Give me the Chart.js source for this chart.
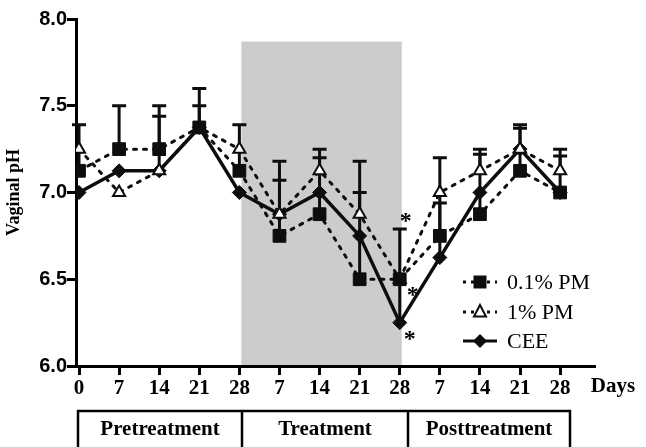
<!DOCTYPE html>
<html>
<head>
<meta charset="utf-8">
<script src="https://cdn.jsdelivr.net/npm/chart.js@4.4.1/dist/chart.umd.min.js"></script>
<style>
    html, body { margin: 0; padding: 0; background: #fff; }
</style>
</head>
<body>
<canvas id="chart1" width="646" height="447"></canvas>
<script>
// DATA
const dayLabels = ['0', '7', '14', '21', '28', '7', '14', '21', '28', '7', '14', '21', '28'];
const yTicks = [6.0, 6.5, 7.0, 7.5, 8.0];
const pm01 = [7.125, 7.25, 7.25, 7.375, 7.125, 6.75, 6.875, 6.5, 6.5, 6.75, 6.875, 7.125, 7.0];
const pm1 = [7.25, 7.0, 7.125, 7.375, 7.25, 6.875, 7.125, 6.875, 6.5, 7.0, 7.125, 7.25, 7.125];
const cee = [7.0, 7.125, 7.125, 7.375, 7.0, 6.875, 7.0, 6.75, 6.25, 6.625, 7.0, 7.25, 7.0];
// upper end of the error bars (null = not drawn)
const pm01Err = [7.39, 7.5, 7.5, 7.6, 7.39, 7.18, 7.2, 7.18, null, 6.94, 7.22, 7.37, 7.21];
const pm1Err = [null, null, null, 7.5, null, 7.07, 7.25, 7.0, null, null, 7.25, 7.39, 7.25];
const ceeErr = [null, null, 7.44, null, null, null, null, null, 6.79, 7.2, null, null, null];
const phases = ['Pretreatment', 'Treatment', 'Posttreatment'];
const treatmentBand = [4, 8, 7.87];   // from day index, to day index, top pH

const INK = '#0d0d0d';
const serif = 'Liberation Serif';
const DASH = [3, 7];

function drawMarker(ctx, style, x, y) {
    ctx.save();
    ctx.fillStyle = INK;
    ctx.strokeStyle = INK;
    ctx.beginPath();
    if (style === 'rect') {
        ctx.rect(x - 6.5, y - 6.5, 13, 13);
        ctx.fill();
    } else if (style === 'triangle') {
        ctx.moveTo(x, y - 7);
        ctx.lineTo(x + 6, y + 4.5);
        ctx.lineTo(x - 6, y + 4.5);
        ctx.closePath();
        ctx.fillStyle = '#fff';
        ctx.fill();
        ctx.lineWidth = 2;
        ctx.stroke();
    } else {
        ctx.moveTo(x, y - 7);
        ctx.lineTo(x + 7, y);
        ctx.lineTo(x, y + 7);
        ctx.lineTo(x - 7, y);
        ctx.closePath();
        ctx.fill();
    }
    ctx.restore();
}

const bandPlugin = {
    id: 'band',
    beforeDraw(chart) {
        const { ctx, scales: { x, y } } = chart;
        const x0 = x.getPixelForValue(treatmentBand[0]) + 2;
        const x1 = x.getPixelForValue(treatmentBand[1]) + 2;
        const top = y.getPixelForValue(treatmentBand[2]);
        ctx.save();
        ctx.fillStyle = '#cccccc';
        ctx.fillRect(x0, top, x1 - x0, y.bottom - top);
        ctx.restore();
    }
};

const errorBarPlugin = {
    id: 'errorBars',
    beforeDatasetsDraw(chart) {
        const { ctx, scales: { x, y } } = chart;
        const sets = [[pm01, pm01Err], [pm1, pm1Err], [cee, ceeErr]];
        ctx.save();
        ctx.strokeStyle = INK;
        ctx.lineWidth = 3;
        sets.forEach(([vals, errs]) => {
            errs.forEach((hi, i) => {
                if (hi === null) return;
                const px = x.getPixelForValue(i);
                const y0 = y.getPixelForValue(vals[i]);
                const y1 = y.getPixelForValue(hi);
                ctx.beginPath();
                ctx.moveTo(px, y0);
                ctx.lineTo(px, y1);
                ctx.moveTo(px - 7, y1);
                ctx.lineTo(px + 7, y1);
                ctx.stroke();
            });
        });
        ctx.restore();
    }
};

const extrasPlugin = {
    id: 'extras',
    afterDraw(chart) {
        const { ctx, scales: { x, y } } = chart;
        ctx.save();

        // significance stars at day 28 of treatment
        ctx.fillStyle = '#000';
        ctx.font = `bold 24px "${serif}"`;
        ctx.textAlign = 'center';
        ctx.textBaseline = 'middle';
        const px = x.getPixelForValue(8);
        ctx.fillText('*', px + 6, y.getPixelForValue(ceeErr[8]) - 7);
        ctx.fillText('*', px + 13, y.getPixelForValue(pm01[8]) + 17);
        ctx.fillText('*', px + 10, y.getPixelForValue(cee[8]) + 17);

        // legend
        const rows = [
            { label: '0.1% PM', style: 'rect', dash: [3, 5], y: 282 },
            { label: '1% PM', style: 'triangle', dash: [3, 5], y: 312 },
            { label: 'CEE', style: 'rectRot', dash: [], y: 341 },
        ];
        rows.forEach(r => {
            ctx.save();
            ctx.strokeStyle = INK;
            ctx.lineWidth = 3;
            ctx.setLineDash(r.dash);
            ctx.beginPath();
            ctx.moveTo(463, r.y);
            ctx.lineTo(497, r.y);
            ctx.stroke();
            ctx.restore();
            drawMarker(ctx, r.style, 480, r.y);
            ctx.fillStyle = '#000';
            ctx.font = `22px "${serif}"`;
            ctx.textAlign = 'left';
            ctx.fillText(r.label, 507, r.y + 1);
        });

        // axis word
        ctx.font = `bold 21px "${serif}"`;
        ctx.textAlign = 'center';
        ctx.fillText('Days', 613, 387);

        // phase boxes
        const edges = [78, 242, 408, 570];
        ctx.strokeStyle = '#000';
        ctx.lineWidth = 2.5;
        ctx.strokeRect(edges[0], 411, edges[3] - edges[0], 60);
        ctx.beginPath();
        ctx.moveTo(edges[1], 411); ctx.lineTo(edges[1], 471);
        ctx.moveTo(edges[2], 411); ctx.lineTo(edges[2], 471);
        ctx.stroke();
        phases.forEach((p, i) => {
            ctx.fillText(p, (edges[i] + edges[i + 1]) / 2, 430);
        });
        ctx.restore();
    }
};

const toPts = arr => arr.map((v, i) => ({ x: i, y: v }));

const chart1 = new Chart(document.querySelector('#chart1'), {
    type: 'line',
    data: {
        datasets: [
            {
                label: '0.1% PM',
                data: toPts(pm01),
                borderColor: INK,
                borderWidth: 3,
                borderDash: DASH,
                borderCapStyle: 'round',
                pointStyle: 'rect',
                pointRadius: 9,
                pointBackgroundColor: INK,
                pointBorderColor: INK,
                pointBorderWidth: 1,
            },
            {
                label: '1% PM',
                data: toPts(pm1),
                borderColor: INK,
                borderWidth: 3,
                borderDash: DASH,
                borderCapStyle: 'round',
                pointStyle: 'triangle',
                pointRadius: 7,
                pointBackgroundColor: '#fff',
                pointBorderColor: INK,
                pointBorderWidth: 2,
            },
            {
                label: 'CEE',
                data: toPts(cee),
                borderColor: INK,
                borderWidth: 3.5,
                pointStyle: 'rectRot',
                pointRadius: 7,
                pointBackgroundColor: INK,
                pointBorderColor: INK,
                pointBorderWidth: 1,
            }
        ]
    },
    options: {
        responsive: false,
        animation: false,
        layout: { padding: { top: 19, right: 51, left: 0, bottom: 0 } },
        scales: {
            x: {
                type: 'linear',
                min: -0.075,
                max: 12.87,
                afterBuildTicks: s => { s.ticks = dayLabels.map((_, i) => ({ value: i })); },
                afterFit: s => { s.height = 81; },
                grid: { drawOnChartArea: false, tickLength: 9, tickWidth: 3, tickColor: '#000' },
                border: { color: '#000', width: 3 },
                ticks: {
                    callback: v => dayLabels[v],
                    color: '#000',
                    autoSkip: false,
                    maxRotation: 0,
                    padding: 1,
                    font: { family: serif, weight: 'bold', size: 21 }
                }
            },
            y: {
                min: 6,
                max: 8,
                afterBuildTicks: s => { s.ticks = yTicks.map(v => ({ value: v })); },
                afterFit: s => { s.width = 76; },
                grid: { drawOnChartArea: false, tickLength: 9, tickWidth: 3, tickColor: '#000' },
                border: { color: '#000', width: 3 },
                ticks: {
                    callback: v => v.toFixed(1),
                    color: '#000',
                    padding: 0,
                    font: { family: 'Liberation Sans', weight: 'bold', size: 20 }
                },
                title: {
                    display: true,
                    text: 'Vaginal pH',
                    color: '#000',
                    padding: { top: 4, bottom: 0 },
                    font: { family: serif, weight: 'bold', size: 18 }
                }
            }
        },
        plugins: {
            legend: { display: false },
            tooltip: { enabled: false }
        }
    },
    plugins: [bandPlugin, errorBarPlugin, extrasPlugin],
});
</script>
</body>
</html>
